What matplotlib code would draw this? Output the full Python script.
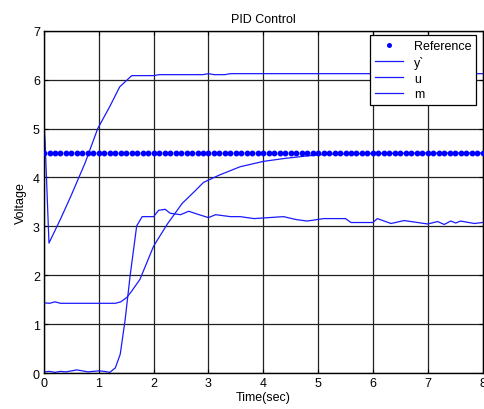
import matplotlib.pyplot as plt
import numpy as np

plt.rcParams["font.family"] = ["Liberation Sans", "DejaVu Sans"]
plt.rcParams["font.size"] = 9

# reference setpoint, sampled every 0.1 s
ref_t = np.round(np.arange(0, 8.01, 0.1), 2)
ref_v = np.full(ref_t.shape, 4.5)

# y` : fast response
y_t = [0.0, 0.02, 0.09, 0.3, 0.49, 0.75, 0.98, 1.2, 1.38, 1.6, 2.0, 2.1, 2.9,
       3.0, 3.1, 3.3, 3.4, 8.0]
y_v = [5.1, 4.7, 2.66, 3.15, 3.62, 4.3, 5.0, 5.45, 5.85, 6.08, 6.08, 6.1, 6.1,
       6.12, 6.1, 6.1, 6.12, 6.12]

# u : slow first-order rise
u_t = [0.0, 0.1, 0.2, 0.3, 0.6, 1.0, 1.3, 1.4, 1.51, 1.6, 1.75, 2.0, 2.25, 2.52,
       2.75, 2.91, 3.2, 3.58, 4.01, 4.4, 4.8, 5.1, 5.5, 6.0, 7.0, 8.0]
u_v = [1.44, 1.43, 1.46, 1.43, 1.43, 1.43, 1.43, 1.46, 1.55, 1.68, 1.92, 2.6,
       3.05, 3.47, 3.72, 3.9, 4.05, 4.22, 4.33, 4.39, 4.44, 4.47, 4.48, 4.49,
       4.5, 4.5]

# m : step-like signal with noise
m_t = [0.0, 0.1, 0.2, 0.3, 0.4, 0.5, 0.6, 0.7, 0.8, 0.9, 1.0, 1.1, 1.2, 1.3,
       1.39, 1.48, 1.57, 1.69, 1.79, 2.0, 2.09, 2.21, 2.3, 2.49, 2.64, 2.8,
       3.0, 3.13, 3.4, 3.58, 3.83, 4.1, 4.37, 4.6, 4.8, 5.1, 5.5, 5.6, 6.0,
       6.08, 6.33, 6.57, 7.0, 7.18, 7.3, 7.42, 7.51, 7.6, 7.85, 8.0]
m_v = [0.03, 0.04, 0.02, 0.04, 0.03, 0.05, 0.07, 0.05, 0.03, 0.04, 0.05, 0.04,
       0.02, 0.11, 0.39, 1.1, 1.99, 3.01, 3.2, 3.2, 3.33, 3.35, 3.27, 3.24,
       3.31, 3.25, 3.18, 3.24, 3.2, 3.2, 3.16, 3.18, 3.2, 3.14, 3.11, 3.16,
       3.16, 3.08, 3.08, 3.16, 3.06, 3.12, 3.05, 3.1, 3.04, 3.11, 3.07, 3.11,
       3.06, 3.08]

blue = "#1a1aff"

fig = plt.figure(figsize=(4.84, 4.10), dpi=100)
ax = fig.add_axes([0.091, 0.087, 0.906, 0.836])

ax.plot(ref_t, ref_v, linestyle="none", marker="o", markersize=3.2,
        color="#0000ff", label="Reference", zorder=4)
ax.plot(y_t, y_v, color=blue, lw=0.9, label="y`")
ax.plot(u_t, u_v, color=blue, lw=0.9, label="u")
ax.plot(m_t, m_v, color=blue, lw=0.9, label="m")

ax.set_xlim(0, 8)
ax.set_ylim(0, 7)
ax.set_xticks(range(0, 9))
ax.set_yticks(range(0, 8))
ax.grid(True, color="#222222", linestyle="-", linewidth=0.9)
ax.set_axisbelow(True)
ax.tick_params(direction="in", top=True, right=True, length=3, pad=3,
               labelsize=9)
for s in ax.spines.values():
    s.set_linewidth(1.0)

ax.set_title("PID Control", fontsize=9, pad=6)
ax.set_xlabel("Time(sec)", labelpad=1)
ax.set_ylabel("Voltage", labelpad=4)

leg = ax.legend(loc="upper right", bbox_to_anchor=(0.986, 0.987),
                borderaxespad=0, fancybox=False, framealpha=1,
                edgecolor="black", handlelength=2.2, handletextpad=0.9,
                borderpad=0.4, labelspacing=0.3, fontsize=9,
                markerscale=0.8)
leg.get_frame().set_linewidth(0.9)

fig.savefig("out.png", dpi=100)
